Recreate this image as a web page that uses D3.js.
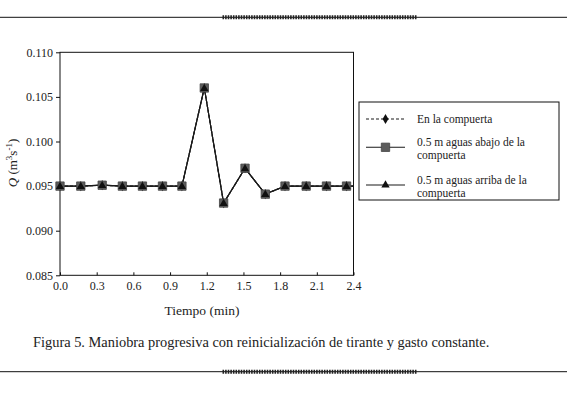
<!DOCTYPE html>
<html><head><meta charset="utf-8">
<script src="https://cdn.jsdelivr.net/npm/d3@7"></script>
<style>body{margin:0;background:#fff}svg{display:block}</style>
</head><body>
<svg id="c" width="567" height="397"></svg>
<script>
const times = [0, 0.17, 0.345, 0.51, 0.674, 0.838, 0.997, 1.18, 1.338, 1.513, 1.679, 1.84, 2.013, 2.179, 2.343, 2.51];
const enLaCompuerta = [0.095, 0.095, 0.0951, 0.095, 0.095, 0.095, 0.095, 0.106, 0.0931, 0.097, 0.0941, 0.095, 0.095, 0.095, 0.095, 0.095];
const aguasAbajo = [0.095, 0.095, 0.0951, 0.095, 0.095, 0.095, 0.095, 0.106, 0.0931, 0.097, 0.0941, 0.095, 0.095, 0.095, 0.095, 0.095];
const aguasArriba = [0.095, 0.095, 0.0951, 0.095, 0.095, 0.095, 0.095, 0.106, 0.0931, 0.097, 0.0941, 0.095, 0.095, 0.095, 0.095, 0.095];
const xTicks = [0.0, 0.3, 0.6, 0.9, 1.2, 1.5, 1.8, 2.1, 2.4];
const yTicks = [0.085, 0.090, 0.095, 0.100, 0.105, 0.110];
const legendLabels = [["En la compuerta"], ["0.5 m aguas abajo de la", "compuerta"], ["0.5 m aguas arriba de la", "compuerta"]];
const caption = "Figura 5. Maniobra progresiva con reinicialización de tirante y gasto constante.";

const svg = d3.select("#c");
const font = "'Liberation Serif','DejaVu Serif',serif";
const L = 60, R = 353.5, T = 52.3, B = 275.3;
const x = d3.scaleLinear().domain([0, 2.4]).range([L, R]);
const y = d3.scaleLinear().domain([0.085, 0.110]).range([B, T]);

// decorative rules
[17.3, 371.7].forEach(yy => {
  svg.append("line").attr("x1", 0).attr("x2", 567).attr("y1", yy).attr("y2", yy)
    .attr("stroke", "#111").attr("stroke-width", 1);
  svg.append("line").attr("x1", 222.5).attr("x2", 417).attr("y1", yy).attr("y2", yy)
    .attr("stroke", "#222").attr("stroke-width", 4).attr("stroke-dasharray", "1.6,1");
});

// clip
svg.append("defs").append("clipPath").attr("id", "pc")
  .append("rect").attr("x", L).attr("y", T - 10).attr("width", R - L).attr("height", B - T + 20);

// frame
svg.append("rect").attr("x", L).attr("y", T).attr("width", R - L).attr("height", B - T)
  .attr("fill", "none").attr("stroke", "#111").attr("stroke-width", 1);

// axes
const yAx = svg.append("g").attr("transform", `translate(${L},0)`)
  .call(d3.axisLeft(y).tickValues(yTicks).tickFormat(d3.format(".3f")).tickSize(4).tickPadding(3));
yAx.select(".domain").remove();
const xAx = svg.append("g").attr("transform", `translate(0,${B})`)
  .call(d3.axisBottom(x).tickValues(xTicks).tickFormat(d3.format(".1f")).tickSize(-3).tickPadding(6));
xAx.select(".domain").remove();
[yAx, xAx].forEach(g => {
  g.selectAll("text").attr("font-family", font).attr("font-size", 12).attr("fill", "#222");
  g.selectAll("line").attr("stroke", "#111");
});

// labels
svg.append("text").attr("x", 202).attr("y", 315).attr("text-anchor", "middle")
  .attr("font-family", font).attr("font-size", 13.5).attr("fill", "#222").text("Tiempo (min)");
const yl = svg.append("text").attr("transform", "translate(17,163) rotate(-90)").attr("text-anchor", "middle")
  .attr("font-family", font).attr("font-size", 13).attr("fill", "#222");
yl.append("tspan").attr("font-style", "italic").text("Q");
yl.append("tspan").text(" (m");
yl.append("tspan").attr("baseline-shift", "super").attr("font-size", 9).text("3");
yl.append("tspan").text("s");
yl.append("tspan").attr("baseline-shift", "super").attr("font-size", 9).text("-1");
yl.append("tspan").text(")");

svg.append("text").attr("x", 33).attr("y", 347).attr("font-family", font).attr("font-size", 14.4)
  .attr("fill", "#222").text(caption);

// series
const seriesList = [
  {vals: enLaCompuerta, dash: "3,2", marker: "diamond"},
  {vals: aguasAbajo, dash: null, marker: "square"},
  {vals: aguasArriba, dash: null, marker: "triangle"}
];
const line = d3.line().x((d, i) => x(times[i])).y(d => y(d));
const sym = {
  diamond: d3.symbol().type(d3.symbolDiamond).size(30),
  square: d3.symbol().type(d3.symbolSquare).size(70),
  triangle: d3.symbol().type(d3.symbolTriangle).size(30)
};
const plot = svg.append("g").attr("clip-path", "url(#pc)");
seriesList.forEach(s => {
  plot.append("path").datum(s.vals).attr("d", line).attr("fill", "none")
    .attr("stroke", "#1a1a1a").attr("stroke-width", 1.2).attr("stroke-dasharray", s.dash);
});
function drawMarker(g, type, cx, cy) {
  const p = g.append("path").attr("d", sym[type]()).attr("transform", `translate(${cx},${cy})`);
  if (type === "square") p.attr("fill", "#5c5c5c").attr("stroke", "#444").attr("stroke-width", 0.8);
  else p.attr("fill", "#111");
  return p;
}
seriesList.forEach(s => {
  s.vals.forEach((v, i) => {
    if (times[i] <= 2.4) drawMarker(svg, s.marker, x(times[i]), y(v) + (s.marker === "triangle" ? 0.5 : 0));
  });
});

// legend
svg.append("rect").attr("x", 359).attr("y", 102).attr("width", 200).attr("height", 98)
  .attr("fill", "#fff").attr("stroke", "#111").attr("stroke-width", 1);
const legY = [119, 147.3, 185];
seriesList.forEach((s, k) => {
  svg.append("line").attr("x1", 366).attr("x2", 405).attr("y1", legY[k]).attr("y2", legY[k])
    .attr("stroke", "#1a1a1a").attr("stroke-width", 1.1).attr("stroke-dasharray", s.dash);
  drawMarker(svg, s.marker, 385.5, legY[k]);
  const lines = legendLabels[k];
  const y0 = lines.length === 1 ? legY[k] + 3.5 : legY[k] - 1.5;
  lines.forEach((t, j) => {
    svg.append("text").attr("x", 417).attr("y", y0 + j * 13.5).attr("font-family", font)
      .attr("font-size", 11.5).attr("fill", "#222").text(t);
  });
});
</script>
</body></html>
